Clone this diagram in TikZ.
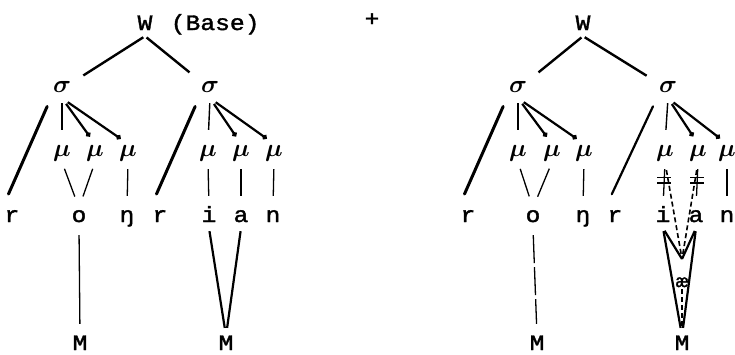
\documentclass[tikz,border=0pt]{standalone}
\usepackage{fontspec}
\usetikzlibrary{arrows.meta,positioning}
\newfontfamily\typewr{Liberation Mono}[FakeStretch=1.12, FakeBold=1.6]

\begin{document}
\begin{tikzpicture}[x=1pt, y=-1pt,
  seg/.style={font=\typewr\fontsize{22}{24}\selectfont,
              text height=12pt, text depth=4pt, inner sep=2pt},
  pros/.style={font=\fontsize{24}{26}\selectfont\boldmath,
               text height=10pt, text depth=4pt, inner sep=2pt},
  wline/.style={line width=2.4pt, shorten <=2pt, shorten >=12pt},
  stem/.style={line width=1.4pt, shorten <=5pt, shorten >=14pt},
  mora/.style={line width=2.2pt, -{Circle[length=5pt]}, shorten <=7pt, shorten >=9pt},
  onset/.style={line width=3pt, line cap=round, shorten <=9pt, shorten >=15pt},
  link/.style={line width=1.3pt, shorten <=7pt, shorten >=12pt},
  melody/.style={line width=2.2pt, shorten <=3pt, shorten >=8pt},
  newlink/.style={line width=1.6pt, dash pattern=on 5pt off 3pt},
  delink/.style={line width=1.4pt}]

  \useasboundingbox (0,0) rectangle (735,354);

  % base
  \node[seg] (wL) at (145,26) {W};
  \node[seg, right=14pt of wL] (baseL) {(Base)};
  \node[pros] (sL1) at (62,89)  {$\sigma$};
  \node[pros] (sL2) at (210,89) {$\sigma$};

  \node[pros] (muL1) at (62,153)  {$\mu$};
  \node[pros] (muL2) at (95,153)  {$\mu$};
  \node[pros] (muL3) at (128,153) {$\mu$};
  \node[pros] (muL4) at (208,153) {$\mu$};
  \node[pros] (muL5) at (241,153) {$\mu$};
  \node[pros] (muL6) at (274,153) {$\mu$};

  \node[seg] (rL1) at (12,218)  {r};
  \node[seg] (oL)  at (79,218)  {o};
  \node[seg] (ngL) at (127,218) {ŋ};
  \node[seg] (rL2) at (160,218) {r};
  \node[seg] (iL)  at (209,218) {i};
  \node[seg] (aL)  at (241,218) {a};
  \node[seg] (nL)  at (273,218) {n};

  \node[seg] (ML1) at (80,346)  {M};
  \node[seg] (ML2) at (226,346) {M};

  \draw[wline] (wL.south) -- (sL1);
  \draw[wline] (wL.south) -- (sL2);

  \draw[stem]  (sL1.south) -- (muL1.north);
  \draw[mora]  (sL1.south) -- (muL2.north);
  \draw[mora]  (sL1.south) -- (muL3.north);
  \draw[onset] (sL1.south west) -- (rL1.north west);
  \draw[stem]  (sL2.south) -- (muL4.north);
  \draw[mora]  (sL2.south) -- (muL5.north);
  \draw[mora]  (sL2.south) -- (muL6.north);
  \draw[onset] (sL2.south west) -- (rL2.north west);

  \draw[link] (muL1.south) -- (oL.north);
  \draw[link] (muL2.south) -- (oL.north);
  \draw[link] (muL3.south) -- (ngL.north);
  \draw[link] (muL4.south) -- (iL.north);
  \draw[link] (muL5.south) -- (aL.north);
  \draw[link] (muL6.south) -- (nL.north);

  \draw[link]   (oL.south) -- (ML1.north);
  \draw[melody] (iL.south) -- (ML2.north);
  \draw[melody] (aL.south) -- (ML2.north);

  \node[seg] (plus) at (372,22) {+};

  % derived form
  \node[seg] (wR) at (583,26) {W};
  \node[pros] (sR1) at (518,89) {$\sigma$};
  \node[pros] (sR2) at (668,89) {$\sigma$};

  \node[pros] (muR1) at (518,153) {$\mu$};
  \node[pros] (muR2) at (552,153) {$\mu$};
  \node[pros] (muR3) at (584,153) {$\mu$};
  \node[pros] (muR4) at (665,153) {$\mu$};
  \node[pros] (muR5) at (698,153) {$\mu$};
  \node[pros] (muR6) at (727,153) {$\mu$};

  \node[seg] (rR1) at (468,218) {r};
  \node[seg] (oR)  at (533,218) {o};
  \node[seg] (ngR) at (583,218) {ŋ};
  \node[seg] (rR2) at (615,218) {r};
  \node[seg] (iR)  at (663,218) {i};
  \node[seg] (aR)  at (696,218) {a};
  \node[seg] (nR)  at (727,218) {n};

  \node[seg] (MR1) at (537,346) {M};
  \node[seg] (MR2) at (682,346) {M};
  \node[seg, font=\typewr\fontsize{18}{20}\selectfont, text height=9pt, text depth=1pt,
        inner sep=1pt] (aeR) at (682,283) {æ};
  \coordinate (tipR) at (682,259);

  \draw[wline] (wR.south) -- (sR1);
  \draw[wline] (wR.south) -- (sR2);

  \draw[stem]  (sR1.south) -- (muR1.north);
  \draw[mora]  (sR1.south) -- (muR2.north);
  \draw[mora]  (sR1.south) -- (muR3.north);
  \draw[onset] (sR1.south west) -- (rR1.north west);
  \draw[stem]  (sR2.south) -- (muR4.north);
  \draw[mora]  (sR2.south) -- (muR5.north);
  \draw[mora]  (sR2.south) -- (muR6.north);
  \draw[onset, line width=2.2pt] (sR2.south west) -- (rR2.north west);

  \draw[link] (muR1.south) -- (oR.north);
  \draw[link] (muR2.south) -- (oR.north);
  \draw[link] (muR3.south) -- (ngR.north);
  \draw[link] (muR4.south) -- coordinate[pos=0.33] (cutA) coordinate[pos=0.46] (cutB) (iR.north);
  \draw[link] (muR5.south) -- coordinate[pos=0.33] (cutC) coordinate[pos=0.46] (cutD) (aR.north);
  \draw[link] (muR6.south) -- (nR.north);

  \draw[delink] ([xshift=-7pt]cutA) -- ([xshift=7pt]cutA);
  \draw[delink] ([xshift=-7pt]cutB) -- ([xshift=7pt]cutB);
  \draw[delink] ([xshift=-7pt]cutC) -- ([xshift=7pt]cutC);
  \draw[delink] ([xshift=-7pt]cutD) -- ([xshift=7pt]cutD);

  \draw[newlink, shorten <=8pt, shorten >=4pt] (muR4.south) -- (tipR);
  \draw[newlink, shorten <=8pt, shorten >=4pt] (muR5.south) -- (tipR);
  \draw[newlink, shorten >=8pt] (aeR) -- (MR2.north);

  \draw[link, dash pattern=on 28pt off 4pt] (oR.south) -- (MR1.north);
  \draw[melody, shorten >=0pt] (iR.south) -- (tipR);
  \draw[melody, shorten >=0pt] (aR.south) -- (tipR);
  \draw[melody] (iR.south) -- (MR2.north);
  \draw[melody] (aR.south) -- (MR2.north);

\end{tikzpicture}
\end{document}
